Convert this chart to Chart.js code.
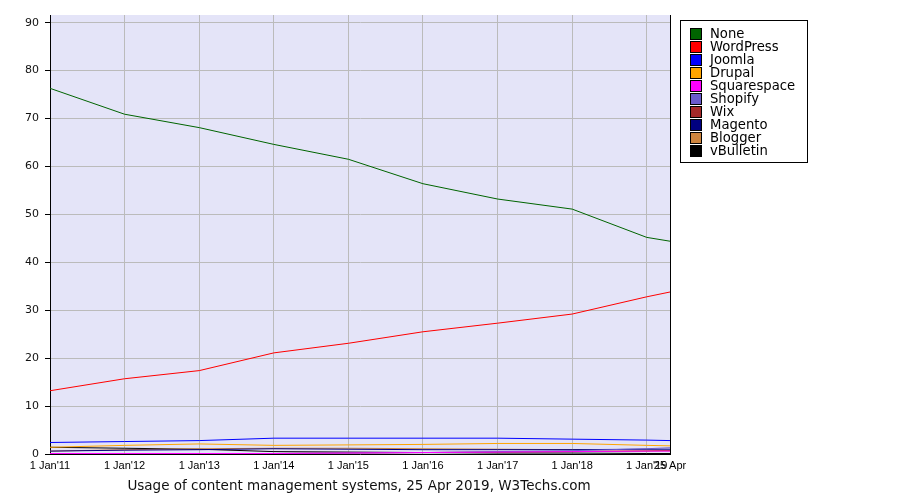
<!DOCTYPE html>
<html>
<head>
<meta charset="utf-8">
<script src="https://cdn.jsdelivr.net/npm/chart.js@4/dist/chart.umd.min.js"></script>
<style>
  body { margin: 0; background: #fff; }
  #wrap { width: 900px; height: 500px; }
</style>
</head>
<body>
<div id="wrap"><canvas id="chart-cms" width="900" height="500"></canvas></div>
<script>
// sample dates (1 Jan of each year + day of the survey)
const dates = ['2011-01-01', '2012-01-01', '2013-01-01', '2014-01-01', '2015-01-01',
    '2016-01-01', '2017-01-01', '2018-01-01', '2019-01-01', '2019-04-25'];
const tickLabels = ["1 Jan'11", "1 Jan'12", "1 Jan'13", "1 Jan'14", "1 Jan'15",
    "1 Jan'16", "1 Jan'17", "1 Jan'18", "1 Jan'19", "25 Apr"];
const yTicks = [0, 10, 20, 30, 40, 50, 60, 70, 80, 90];

const systems = ['None', 'WordPress', 'Joomla', 'Drupal', 'Squarespace', 'Shopify', 'Wix', 'Magento', 'Blogger', 'vBulletin'];
const colors = ['#006400', '#ff0000', '#0000ff', '#ffa500', '#ff00ff', '#6a5acd', '#a52a2a', '#000080', '#cd853f', '#000000'];

const none        = [76.3, 70.9, 68.1, 64.6, 61.5, 56.4, 53.2, 51.1, 45.2, 44.4];
const wordpress   = [13.2, 15.7, 17.4, 21.1, 23.1, 25.5, 27.3, 29.2, 32.8, 33.8];
const joomla      = [2.4, 2.6, 2.8, 3.3, 3.3, 3.3, 3.3, 3.1, 2.9, 2.8];
const drupal      = [1.4, 1.8, 2.1, 1.8, 1.9, 2.0, 2.2, 2.2, 1.8, 1.7];
const squarespace = [0.1, 0.1, 0.1, 0.1, 0.2, 0.3, 0.4, 0.5, 0.6, 0.6];
const shopify     = [0.0, 0.0, 0.0, 0.1, 0.2, 0.3, 0.5, 0.7, 1.1, 1.3];
const wix         = [0.0, 0.0, 0.1, 0.1, 0.2, 0.3, 0.4, 0.5, 0.6, 0.7];
const magento     = [0.6, 0.8, 0.9, 1.1, 1.0, 0.9, 0.9, 0.9, 1.0, 1.0];
const blogger     = [0.6, 0.9, 1.1, 1.2, 1.2, 1.1, 1.0, 0.9, 0.8, 0.7];
const vbulletin   = [1.4, 1.2, 1.0, 0.5, 0.4, 0.3, 0.2, 0.2, 0.1, 0.1];

const series = [none, wordpress, joomla, drupal, squarespace, shopify, wix, magento, blogger, vbulletin];
const titleText = 'Usage of content management systems, 25 Apr 2019, W3Techs.com';

// days since first sample
const t0 = Date.UTC(2011, 0, 1);
function dayNum(s) {
    let p = s.split('-');
    return (Date.UTC(+p[0], +p[1] - 1, +p[2]) - t0) / 86400000;
}
const xs = dates.map(dayNum);

const datasets = systems.map(function (name, i) {
    return {
        label: name,
        data: series[i].map((v, j) => ({ x: xs[j], y: v })),
        borderColor: colors[i],
        backgroundColor: colors[i],
        borderWidth: 1,
        pointRadius: 0,
        tension: 0,
        order: i
    };
});

const plotDecor = {
    id: 'plotDecor',
    beforeDraw(chart) {
        let a = chart.chartArea, ctx = chart.ctx;
        ctx.save();
        ctx.fillStyle = '#e4e4f8';
        ctx.fillRect(a.left, a.top, a.right - a.left, a.bottom - a.top);
        ctx.restore();
    },
    afterDraw(chart) {
        let a = chart.chartArea, ctx = chart.ctx;
        ctx.save();
        // right border
        ctx.strokeStyle = '#000';
        ctx.lineWidth = 1;
        ctx.beginPath();
        ctx.moveTo(a.right + 0.5, a.top);
        ctx.lineTo(a.right + 0.5, a.bottom + 1);
        ctx.stroke();

        // title under the axis
        ctx.fillStyle = '#111';
        ctx.font = '13.5px "DejaVu Sans", Verdana, sans-serif';
        ctx.textAlign = 'center';
        ctx.textBaseline = 'alphabetic';
        ctx.fillText(titleText, (a.left + a.right) / 2 - 1, 490);

        // legend box
        let lx = 680, ly = 20, lw = 127, lh = 142;
        ctx.fillStyle = '#fff';
        ctx.fillRect(lx, ly, lw, lh);
        ctx.strokeStyle = '#000';
        ctx.strokeRect(lx + 0.5, ly + 0.5, lw, lh);
        ctx.font = '13.2px "DejaVu Sans", Verdana, sans-serif';
        ctx.textAlign = 'left';
        ctx.textBaseline = 'middle';
        systems.forEach(function (name, i) {
            let y = 34 + i * 13;
            ctx.fillStyle = colors[i];
            ctx.fillRect(690, y - 5, 11, 11);
            ctx.strokeStyle = '#000';
            ctx.strokeRect(690.5, y - 5.5, 11, 11);
            ctx.fillStyle = '#000';
            ctx.fillText(name, 710, y + 1);
        });
        ctx.restore();
    }
};

new Chart(document.getElementById('chart-cms'), {
    type: 'line',
    data: { datasets: datasets },
    options: {
        responsive: false,
        animation: false,
        layout: { padding: { left: 0, right: 230, top: 15, bottom: 0 } },
        plugins: {
            legend: { display: false },
            tooltip: { enabled: false },
            title: { display: false }
        },
        scales: {
            x: {
                type: 'linear',
                min: 0,
                max: xs[xs.length - 1],
                afterBuildTicks: function (scale) {
                    scale.ticks = xs.slice(1).map(v => ({ value: v }));
                    scale.ticks.unshift({ value: 0 });
                },
                afterFit: function (scale) { scale.height = 46; },
                ticks: {
                    autoSkip: false,
                    maxRotation: 0,
                    minRotation: 0,
                    padding: 1,
                    color: '#000',
                    font: { family: '"Liberation Sans", Arial, sans-serif', size: 11 },
                    callback: function (value, index) { return tickLabels[index]; }
                },
                grid: {
                    color: '#bbbbbb',
                    tickLength: 4,
                    tickColor: 'rgba(0,0,0,0)'
                },
                border: { display: true, color: '#000', width: 1 }
            },
            y: {
                min: 0,
                max: 91.6,
                afterBuildTicks: function (scale) {
                    scale.ticks = yTicks.map(v => ({ value: v }));
                },
                afterFit: function (scale) { scale.width = 50; },
                ticks: {
                    padding: 6,
                    color: '#111',
                    font: { family: '"DejaVu Sans", Verdana, sans-serif', size: 11 }
                },
                grid: {
                    color: '#bbbbbb',
                    tickLength: 5,
                    tickColor: '#000'
                },
                border: { display: true, color: '#000', width: 1 }
            }
        }
    },
    plugins: [plotDecor]
});
</script>
</body>
</html>
